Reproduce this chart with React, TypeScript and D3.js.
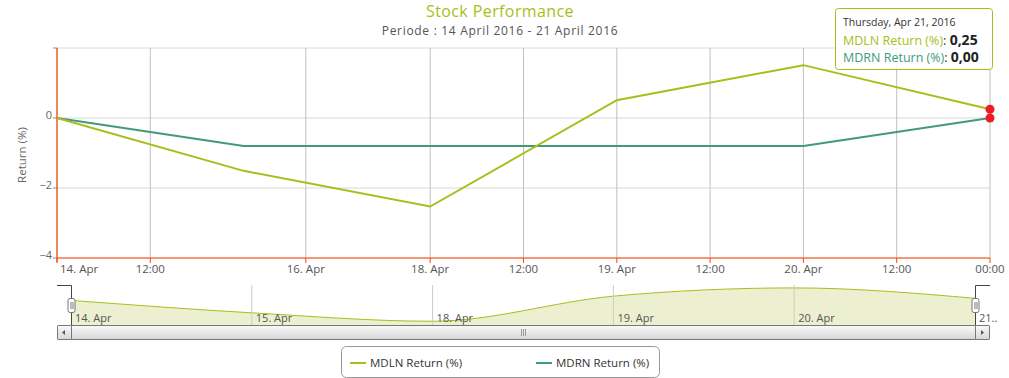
import React from "react";
import * as d3 from "d3";

const categories = ["14. Apr", "15. Apr", "18. Apr", "19. Apr", "20. Apr", "21. Apr"];
const mdln = [0, -1.51, -2.53, 0.51, 1.51, 0.25];
const mdrn = [0, -0.8, -0.8, -0.8, -0.8, 0.0];
// axis ticks on ordinal index positions
const xTickPos = [0, 0.5, 4 / 3, 2, 2.5, 3, 3.5, 4, 4.5, 5];
const xTickLabels = ["14. Apr", "12:00", "16. Apr", "18. Apr", "12:00", "19. Apr", "12:00", "20. Apr", "12:00", "00:00"];
const yTicks = [-4, -2, 0, 2];
const navLabels = ["14. Apr", "15. Apr", "18. Apr", "19. Apr", "20. Apr", "21.."];

const C1 = "#a9be1b";
const C2 = "#3f9b7b";
const AXIS = "#ff4500";
const FONT = "'Open Sans', 'DejaVu Sans', sans-serif";

export default function App() {
  const W = 1009, H = 378;
  const left = 57, right = 990, top = 48, bottom = 258;
  const x = d3.scaleLinear().domain([0, 5]).range([left, right]);
  const y = d3.scaleLinear().domain([-4, 2]).range([bottom, top]);
  const line = (vals: number[]) =>
    d3.line<number>().x((_, i) => x(i)).y((d) => y(d))(vals) || "";

  const nTop = 285, nBot = 325, nL = 71, nR = 975;
  const nx = d3.scaleLinear().domain([0, 5]).range([nL, nR]);
  const ny = d3.scaleLinear().domain([-2.5, 1.5]).range([321, 288]);
  const navArea = d3.area<number>().x((_, i) => nx(i)).y0(nBot).y1((d) => ny(d)).curve(d3.curveMonotoneX)(mdln) || "";
  const navLine = d3.line<number>().x((_, i) => nx(i)).y((d) => ny(d)).curve(d3.curveMonotoneX)(mdln) || "";

  const last = categories.length - 1;

  return (
    <svg width={W} height={H} style={{ position: "absolute", left: 0, top: 0, fontFamily: FONT }}>
      <defs>
        <linearGradient id="sb" x1="0" y1="0" x2="0" y2="1">
          <stop offset="0" stopColor="#fafafa" />
          <stop offset="1" stopColor="#d6d6d6" />
        </linearGradient>
      </defs>
      <rect width={W} height={H} fill="#fff" />
      {/* title */}
      <text x={500} y={17.3} textAnchor="middle" fontSize={16} letterSpacing={0.4} fill={C1}>Stock Performance</text>
      <text x={500} y={35} textAnchor="middle" fontSize={12} letterSpacing={0.7} fill="#555">Periode : 14 April 2016 - 21 April 2016</text>

      {/* grid */}
      {yTicks.map((t) => (
        <line key={"yg" + t} x1={left} x2={right} y1={y(t)} y2={y(t)} stroke="#d8d8d8" />
      ))}
      {xTickPos.map((p, i) => (
        <line key={"xg" + i} x1={x(p)} x2={x(p)} y1={top} y2={bottom} stroke="#c0c0c0" />
      ))}
      {/* y labels */}
      {yTicks.filter((t) => t < 2).map((t) => (
        <text key={"yl" + t} x={52} y={y(t) + 1} textAnchor="end" fontSize={11} fill="#666">{t < 0 ? "\u2212" + Math.abs(t) : t}</text>
      ))}
      {yTicks.map((t) => (
        <line key={"yt" + t} x1={53} x2={left} y1={y(t)} y2={y(t)} stroke="#888" />
      ))}
      <text transform={`translate(26,${(top + bottom) / 2 + 2}) rotate(-90)`} textAnchor="middle" fontSize={11.5} fill="#666">Return (%)</text>

      {/* axes */}
      <line x1={left} x2={left} y1={top} y2={bottom + 4} stroke={AXIS} strokeWidth={1.2} />
      <line x1={left} x2={right} y1={bottom} y2={bottom} stroke={AXIS} strokeWidth={1.2} />
      {xTickPos.map((p, i) => (
        <line key={"xt" + i} x1={x(p)} x2={x(p)} y1={bottom} y2={bottom + 5} stroke={AXIS} />
      ))}
      {xTickPos.map((p, i) => (
        <text key={"xl" + i} x={x(p)} y={bottom + 15} textAnchor={i === 0 ? "start" : "middle"} dx={i === 0 ? 3 : 0} fontSize={11.5} fill="#555">{xTickLabels[i]}</text>
      ))}

      {/* series */}
      <path d={line(mdrn)} fill="none" stroke={C2} strokeWidth={2} />
      <path d={line(mdln)} fill="none" stroke={C1} strokeWidth={2} />
      <circle cx={x(last)} cy={y(mdln[last])} r={4.5} fill="#ee1c25" />
      <circle cx={x(last)} cy={y(mdrn[last])} r={4.5} fill="#ee1c25" />

      {/* tooltip */}
      <rect x={835.5} y={8.5} width={157} height={61} rx={3} fill="rgba(255,255,255,0.85)" stroke={C1} />
      <text x={843} y={26} fontSize={10.5} fill="#333">Thursday, Apr 21, 2016</text>
      <text x={843} y={45} fontSize={12.5}>
        <tspan fill={C1}>MDLN Return (%)</tspan>
        <tspan fill="#333">: </tspan>
        <tspan fill="#222" fontWeight="bold" fontSize={14}>0,25</tspan>
      </text>
      <text x={843} y={62} fontSize={12.5}>
        <tspan fill={C2}>MDRN Return (%)</tspan>
        <tspan fill="#333">: </tspan>
        <tspan fill="#222" fontWeight="bold" fontSize={14}>0,00</tspan>
      </text>

      {/* navigator */}
      <path d={navArea} fill="#ecf0d0" />
      <path d={navLine} fill="none" stroke={C1} strokeWidth={1} />
      {categories.map((c, i) =>
        i > 0 && i < last ? (
          <line key={"ng" + i} x1={nx(i)} x2={nx(i)} y1={nTop} y2={nBot} stroke="#ccc" />
        ) : null
      )}
      {navLabels.map((l, i) => (
        <text key={"nl" + i} x={nx(i) + 4} y={nBot - 3} fontSize={11} fill="#555">{l}</text>
      ))}
      <path d={`M${left},${nTop + 0.5}H${nL + 0.5}V${nBot}`} fill="none" stroke="#444" />
      <path d={`M${right},${nTop + 0.5}H${nR + 0.5}V${nBot}`} fill="none" stroke="#444" />
      {[nL, nR].map((hx, i) => (
        <g key={"h" + i}>
          <rect x={hx - 3.5 + 0.5} y={298.5} width={7} height={14} rx={2} fill="#fff" stroke="#777" />
          <line x1={hx - 0.5 + 0.5} x2={hx - 0.5 + 0.5} y1={302} y2={309} stroke="#777" />
          <line x1={hx + 1.5 + 0.5} x2={hx + 1.5 + 0.5} y1={302} y2={309} stroke="#777" />
        </g>
      ))}

      {/* scrollbar */}
      <rect x={left + 0.5} y={nBot + 0.5} width={right - left - 1} height={14} fill="url(#sb)" stroke="#777" rx={1} />
      <rect x={nL + 0.5} y={nBot + 0.5} width={nR - nL} height={14} fill="url(#sb)" stroke="#777" />
      <rect x={left + 0.5} y={nBot + 0.5} width={nL - left} height={14} fill="url(#sb)" stroke="#777" rx={1} />
      <rect x={nR + 0.5} y={nBot + 0.5} width={right - nR - 1} height={14} fill="url(#sb)" stroke="#777" rx={1} />
      <path d={`M${left + 8},${nBot + 5} L${left + 5},${nBot + 7.5} L${left + 8},${nBot + 10} Z`} fill="#555" />
      <path d={`M${right - 9},${nBot + 5} L${right - 6},${nBot + 7.5} L${right - 9},${nBot + 10} Z`} fill="#555" />
      {[-2, 0, 2].map((d) => (
        <line key={"gr" + d} x1={(nL + nR) / 2 + d + 0.5} x2={(nL + nR) / 2 + d + 0.5} y1={nBot + 4} y2={nBot + 11} stroke="#999" />
      ))}

      {/* legend */}
      <rect x={341.5} y={346.5} width={318} height={31} rx={5} fill="#fff" stroke="#999" />
      <line x1={350} x2={366} y1={363} y2={363} stroke={C1} strokeWidth={2} />
      <text x={370} y={367} fontSize={11.5} fill="#333">MDLN Return (%)</text>
      <line x1={536} x2={552} y1={363} y2={363} stroke={C2} strokeWidth={2} />
      <text x={556} y={367} fontSize={11.5} fill="#333">MDRN Return (%)</text>
    </svg>
  );
}
